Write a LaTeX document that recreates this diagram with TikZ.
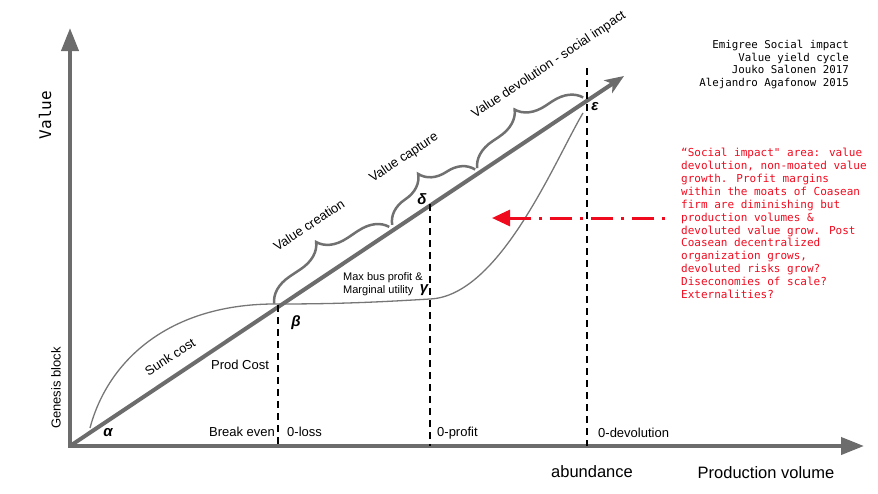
\documentclass[tikz,border=0pt]{standalone}
\usepackage{fontspec}
\setmainfont{Liberation Sans}
\newfontfamily\monof{DejaVu Sans Mono}
\usetikzlibrary{arrows.meta,decorations.pathreplacing}
\definecolor{axgray}{RGB}{108,108,108}
\definecolor{curvegray}{RGB}{118,118,118}
\definecolor{bracegray}{RGB}{112,112,112}
\definecolor{notered}{RGB}{240,10,30}
\begin{document}
\begin{tikzpicture}[x=1pt,y=-1pt,
  axis/.style={draw=axgray,line width=4pt},
  dashline/.style={draw=black,line width=1.6pt,dash pattern=on 7pt off 5pt},
  bracestyle/.style={draw=bracegray,line width=2.5pt,decorate,decoration={brace,amplitude=28pt}},
  lbl/.style={font=\fontsize{13}{15}\selectfont,inner sep=0pt},
  biglbl/.style={font=\fontsize{16.5}{19}\selectfont,inner sep=0pt},
  greek/.style={font=\fontsize{15}{17}\selectfont\bfseries\itshape,inner sep=0pt},
  monotitle/.style={font=\monof\fontsize{10.8}{12.7}\selectfont,inner sep=0pt},
  rednote/.style={font=\monof\fontsize{11}{12.9}\selectfont,inner sep=0pt,text=notered}]
\useasboundingbox (0,0) rectangle (878,493);
% axes
\coordinate (O) at (70,446);
\coordinate (Ybase) at (70,448);
\coordinate (Xbase) at (68,446);
\coordinate (Ytip) at (70,28);
\coordinate (Xtip) at (864,446);
\coordinate (Dtip) at (624,76);
\draw[axis,-{Triangle[length=23pt,width=17pt]}] (Ybase) -- (Ytip);
\draw[axis,-{Triangle[length=23pt,width=17pt]}] (Xbase) -- (Xtip);
% curve
\draw[curvegray,line width=1.3pt] (90,428) .. controls (108,360) and (170,303) .. (278,304)
  .. controls (340,304) and (380,302) .. (430,299)
  .. controls (500,296) and (555,160) .. (583,113);
% diagonal
\draw[axis,-{Stealth[length=19pt,width=15pt,inset=5pt]}] (O) -- (Dtip);
% dashed verticals
\coordinate (Bt) at (278,305);
\coordinate (Bb) at (278,446);
\coordinate (Dt) at (430,204);
\coordinate (Db) at (430,446);
\coordinate (Et) at (587,68);
\coordinate (Eb) at (587,446);
\draw[dashline] (Bt) -- (Bb);
\draw[dashline] (Dt) -- (Db);
\draw[dashline] (Et) -- (Eb);
% braces
\coordinate (b1s) at (274.2,303.7);
\coordinate (b1e) at (389.2,226.9);
\coordinate (b2s) at (392.2,224.9);
\coordinate (b2e) at (475.2,169.5);
\coordinate (b3s) at (477.2,168.2);
\coordinate (b3e) at (583.2,97.5);
\draw[bracestyle] (b1s) -- (b1e);
\draw[bracestyle] (b2s) -- (b2e);
\draw[bracestyle] (b3s) -- (b3e);
\node[lbl,rotate=33.7] (vcre) at (309,225) {Value creation};
\node[lbl,rotate=33.7] (vcap) at (404,158) {Value capture};
\node[lbl,rotate=33.7] (vdev) at (549,65) {Value devolution - social impact};
% red arrow
\coordinate (Rs) at (665,218);
\coordinate (Re) at (492,218);
\draw[notered,line width=3pt,dash pattern=on 3pt off 8pt on 22pt off 8pt,-{Triangle[length=18pt,width=16pt]}] (Rs) -- (Re);
% greek labels
\node[greek] (alpha) at (108,433) {α};
\node[greek] (beta) at (296,323) {β};
\node[greek] (gamma) at (424,290) {γ};
\node[greek] (delta) at (422,199) {δ};
\node[greek] (eps) at (595,107) {ε};
% other labels
\node[lbl,rotate=90] (genesis) at (56,388) {Genesis block};
\node[lbl,rotate=33] (sunk) at (170,357) {Sunk cost};
\node[lbl] (prod) at (240,365) {Prod Cost};
\node[lbl] (breakeven) at (242,432) {Break even};
\node[lbl,anchor=west] (zloss) at (287,432) {0-loss};
\node[lbl,anchor=west] (zprofit) at (437,433) {0-profit};
\node[lbl,anchor=west] (zdev) at (598,433) {0-devolution};
\node[biglbl] (abund) at (592,472) {abundance};
\node[biglbl] (pvol) at (766,473) {Production volume};
\node[font=\fontsize{11}{12.5}\selectfont,inner sep=0pt,align=left,anchor=west] (maxbus) at (343,284) {Max bus profit \&\\Marginal utility};
\node[rotate=90,font=\monof\fontsize{16}{18}\selectfont,inner sep=0pt] (vlabel) at (45,115) {Value};
% title
\node[monotitle,anchor=north east,align=right] (title) at (849,40) {Emigree Social impact\\Value yield cycle\\Jouko Salonen 2017\\Alejandro Agafonow 2015};
% red note
\node[rednote,anchor=north west,align=left] (note) at (681,148) {“Social impact" area: value\\devolution, non-moated value\\growth. Profit margins\\within the moats of Coasean\\firm are diminishing but\\production volumes \&\\devoluted value grow. Post\\Coasean decentralized\\organization grows,\\devoluted risks grow?\\Diseconomies of scale?\\Externalities?};
\end{tikzpicture}
\end{document}
